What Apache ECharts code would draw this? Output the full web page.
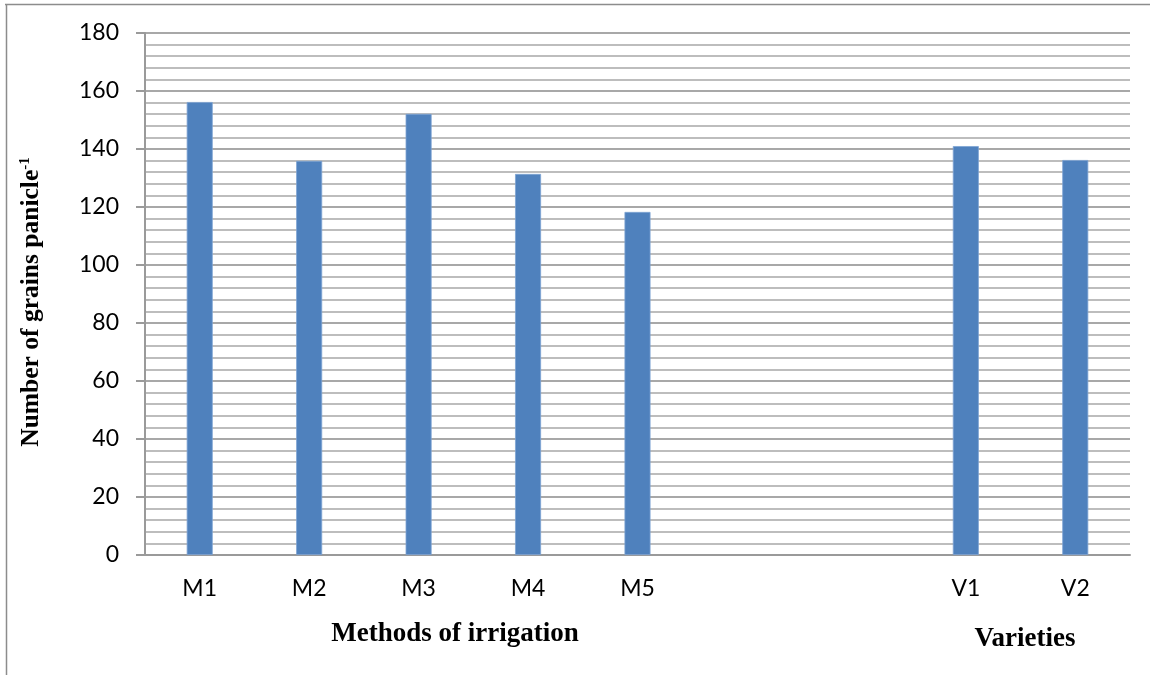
<!DOCTYPE html>
<html>
<head>
<meta charset="utf-8">
<script src="https://cdn.jsdelivr.net/npm/echarts@6/dist/echarts.min.js"></script>
<style>
html,body{margin:0;padding:0;background:#fff;}
#chart{width:1150px;height:675px;}
</style>
</head>
<body>
<div id="chart"></div>
<script>
var categories = ['M1', 'M2', 'M3', 'M4', 'M5', '', '', 'V1', 'V2'];
var values = [156.2, 135.9, 152.1, 131.4, 118.3, null, null, 141.0, 136.2];
var yTicks = { min: 0, max: 180, interval: 20 };
var xTitleMethods = 'Methods of irrigation';
var xTitleVarieties = 'Varieties';
var yTitleMain = 'Number of grains panicle';
var yTitleSup = '-1';

var chart = echarts.init(document.getElementById('chart'), null, { renderer: 'canvas' });
var option = {
  backgroundColor: '#ffffff',
  animation: false,
  grid: { left: 145, right: 20, top: 33, bottom: 120, containLabel: false },
  xAxis: {
    type: 'category',
    data: categories,
    axisLine: { show: true, lineStyle: { color: '#9a9a9a', width: 2 } },
    axisTick: { show: false },
    axisLabel: { color: '#000', fontFamily: 'Lato', fontSize: 23, margin: 22 },
    splitLine: { show: false }
  },
  yAxis: {
    type: 'value',
    min: yTicks.min, max: yTicks.max, interval: yTicks.interval,
    axisLine: { show: true, lineStyle: { color: '#9a9a9a', width: 2 } },
    axisTick: { show: true, inside: false, length: 9, lineStyle: { color: '#9a9a9a', width: 2 } },
    axisLabel: { color: '#000', fontFamily: 'Lato', fontSize: 23, margin: 26 },
    splitLine: { show: true, lineStyle: { color: '#a8a8a8', width: 2 } },
    minorTick: { show: false, splitNumber: 5 },
    minorSplitLine: { show: true, lineStyle: { color: '#bdbdbd', width: 2 } }
  },
  series: [{
    type: 'bar',
    data: values,
    barWidth: 26,
    itemStyle: { color: '#4f81bd', borderColor: '#7ea3d3', borderWidth: 0.8 }
  }],
  graphic: [
    { type: 'line', shape: { x1: 5, y1: 4.5, x2: 1150, y2: 4.5 }, style: { stroke: '#8c8c8c', lineWidth: 1.5 } },
    { type: 'line', shape: { x1: 6.5, y1: 4, x2: 6.5, y2: 675 }, style: { stroke: '#8c8c8c', lineWidth: 1.5 } },
    { type: 'text', x: 455, y: 634, style: { text: xTitleMethods, fill: '#000', fontFamily: 'Liberation Serif', fontWeight: 'bold', fontSize: 27, align: 'center', verticalAlign: 'middle' } },
    { type: 'text', x: 1025, y: 639, style: { text: xTitleVarieties, fill: '#000', fontFamily: 'Liberation Serif', fontWeight: 'bold', fontSize: 27, align: 'center', verticalAlign: 'middle' } },
    { type: 'text', x: 31, y: 302, rotation: Math.PI / 2,
      style: {
        text: '{m|' + yTitleMain + '}{s|' + yTitleSup + '}',
        align: 'center', verticalAlign: 'middle',
        rich: {
          m: { fontFamily: 'Liberation Serif', fontWeight: 'bold', fontSize: 25.5, fill: '#000', color: '#000' },
          s: { fontFamily: 'Liberation Serif', fontWeight: 'bold', fontSize: 15, fill: '#000', color: '#000', verticalAlign: 'top', padding: [0, 0, 11, 0] }
        }
      }
    }
  ]
};
chart.setOption(option);
</script>
</body>
</html>
